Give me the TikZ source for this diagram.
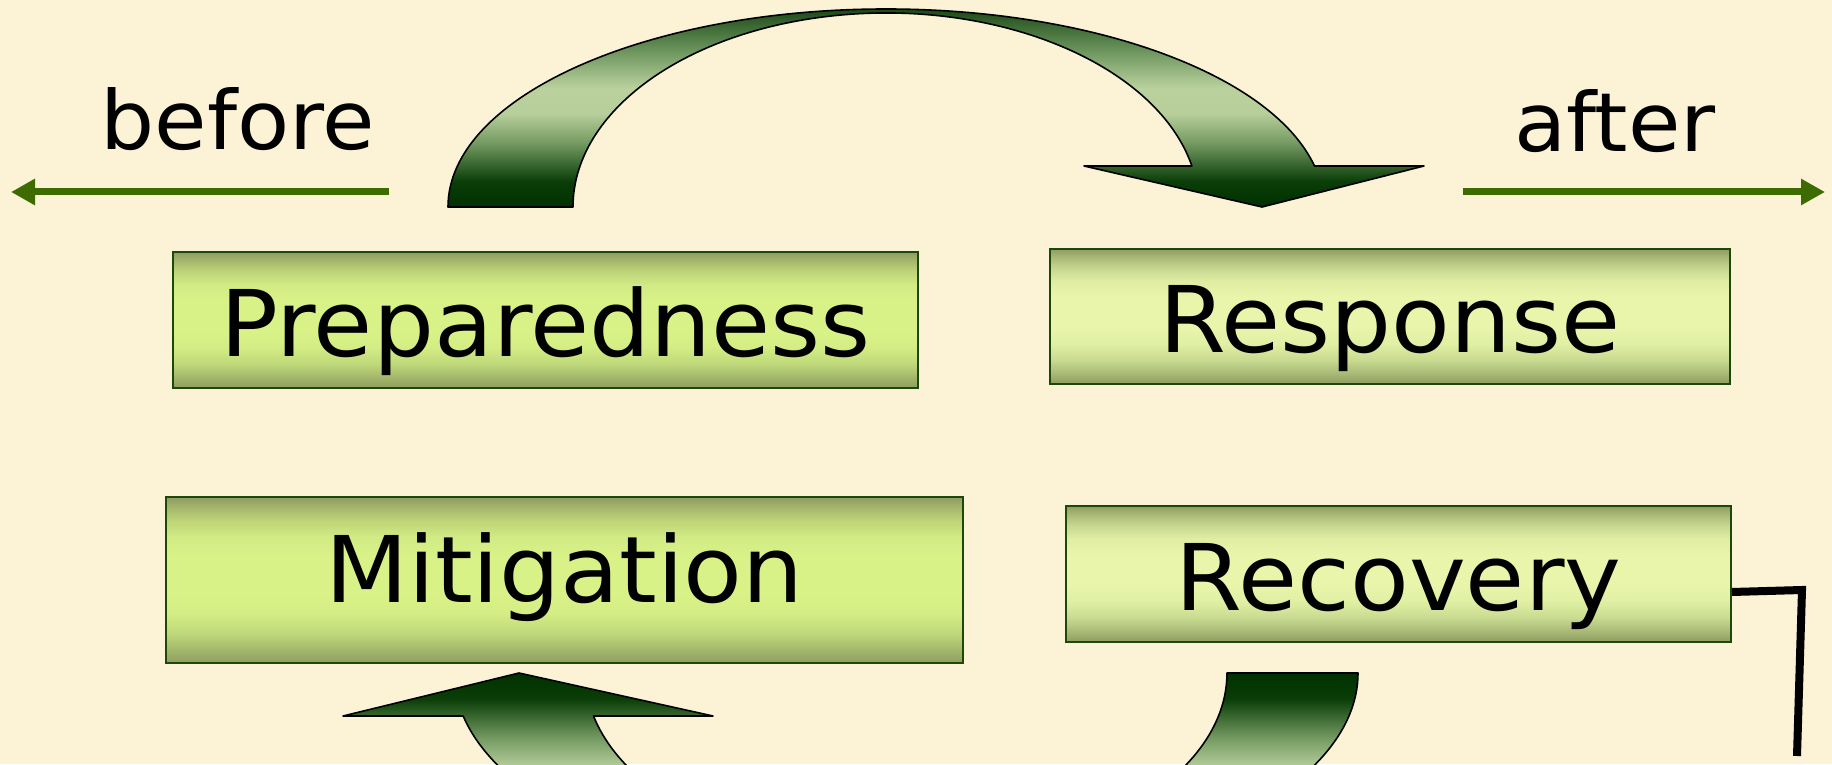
\documentclass[tikz,border=0pt]{standalone}
\usepackage{fontspec}
\setmainfont[FakeStretch=1.045]{DejaVu Sans}
\usetikzlibrary{arrows.meta}
\definecolor{bg}{RGB}{252,242,214}
\definecolor{boxline}{RGB}{28,72,12}
\definecolor{timeline}{RGB}{61,107,0}
\pgfdeclareverticalshading{boxA}{100bp}{rgb(0bp)=(0.557,0.612,0.376); rgb(25bp)=(0.557,0.612,0.376); rgb(29bp)=(0.64,0.72,0.42); rgb(34bp)=(0.75,0.85,0.48); rgb(40bp)=(0.83,0.93,0.52); rgb(46bp)=(0.85,0.95,0.53); rgb(57bp)=(0.85,0.95,0.53); rgb(63bp)=(0.82,0.92,0.52); rgb(68bp)=(0.74,0.83,0.47); rgb(72bp)=(0.64,0.71,0.42); rgb(75bp)=(0.557,0.612,0.376); rgb(100bp)=(0.557,0.612,0.376)}
\pgfdeclareverticalshading{boxB}{100bp}{rgb(0bp)=(0.557,0.612,0.376); rgb(25bp)=(0.557,0.612,0.376); rgb(29bp)=(0.66,0.73,0.46); rgb(34bp)=(0.79,0.86,0.57); rgb(40bp)=(0.88,0.94,0.64); rgb(46bp)=(0.91,0.96,0.67); rgb(57bp)=(0.91,0.96,0.67); rgb(63bp)=(0.88,0.93,0.64); rgb(68bp)=(0.78,0.84,0.56); rgb(72bp)=(0.66,0.72,0.46); rgb(75bp)=(0.557,0.612,0.376); rgb(100bp)=(0.557,0.612,0.376)}
\pgfdeclareverticalshading{arrtop}{100bp}{rgb(0bp)=(0,0.19,0); rgb(25bp)=(0,0.19,0); rgb(31bp)=(0.04,0.24,0.03); rgb(40bp)=(0.45,0.6,0.38); rgb(47bp)=(0.72,0.81,0.61); rgb(53bp)=(0.73,0.82,0.62); rgb(62bp)=(0.42,0.58,0.36); rgb(75bp)=(0,0.19,0); rgb(100bp)=(0,0.19,0)}
\pgfdeclareverticalshading{arrbot}{100bp}{rgb(0bp)=(0,0.19,0); rgb(25bp)=(0,0.19,0); rgb(38bp)=(0.42,0.58,0.36); rgb(47bp)=(0.73,0.82,0.62); rgb(53bp)=(0.72,0.81,0.61); rgb(60bp)=(0.45,0.6,0.38); rgb(69bp)=(0.04,0.24,0.03); rgb(75bp)=(0,0.19,0); rgb(100bp)=(0,0.19,0)}
\begin{document}
\begin{tikzpicture}[x=1pt,y=1pt,
  phase/.style={rectangle, draw=boxline, line width=2pt, inner sep=0pt,
    font=\fontsize{92pt}{100pt}\selectfont, text depth=0pt},
  cyclearrow/.style={draw=black, line width=1.6pt, line join=round},
  timearrow/.style={draw=timeline, line width=7pt, -{Triangle[length=24pt,width=25pt]}},
  lbl/.style={font=\fontsize{81.6pt}{90pt}\selectfont, inner sep=0pt, anchor=base}]
\useasboundingbox (0,0) rectangle (1832,764);
\fill[bg] (0,0) rectangle (1832,764);
\clip (0,0) rectangle (1832,764);
% top curved arrow
\path[cyclearrow, shading=arrtop] (448,557)
  arc[start angle=180, end angle=11.95, x radius=438pt, y radius=198pt]
  -- (1424,598) -- (1262,557) -- (1084,598) -- (1191.9,598)
  arc[start angle=12.2, end angle=180, x radius=313pt, y radius=194pt] -- cycle;
% bottom curved arrow
\path[cyclearrow, shading=arrbot] (1358,91)
  arc[start angle=0, end angle=-168.46, x radius=452pt, y radius=215pt]
  -- (343,48) -- (519,91) -- (713,48) -- (593.5,48)
  arc[start angle=193.22, end angle=360, x radius=321pt, y radius=188pt] -- cycle;
% before / after
\node[lbl] (before) at (238,614) {before};
\coordinate (bstart) at (389,572);
\coordinate (bend) at (11,572);
\draw[timearrow] (bstart) -- (bend);
\node[lbl] (after) at (1615,612) {after};
\coordinate (astart) at (1463,572);
\coordinate (aend) at (1825,572);
\draw[timearrow] (astart) -- (aend);
% phase boxes
\node[phase, minimum width=745pt, minimum height=136pt, text height=74pt, shading=boxA] (prep) at (545.5,444) {Preparedness};
\node[phase, minimum width=680pt, minimum height=135pt, text height=73pt, shading=boxB] (resp) at (1390,447.5) {Response};
\node[phase, minimum width=797pt, minimum height=166pt, text height=44pt, shading=boxA] (mit) at (564.5,184) {Mitigation};
\node[phase, minimum width=665pt, minimum height=136pt, text height=72pt, shading=boxB] (rec) at (1398.5,190) {Recovery};
% connector from Recovery
\coordinate (c1) at (1802,174);
\coordinate (c2) at (1797,8);
\draw[black, line width=8pt] ([yshift=-18pt]rec.east) -- (c1) -- (c2);
\end{tikzpicture}
\end{document}
